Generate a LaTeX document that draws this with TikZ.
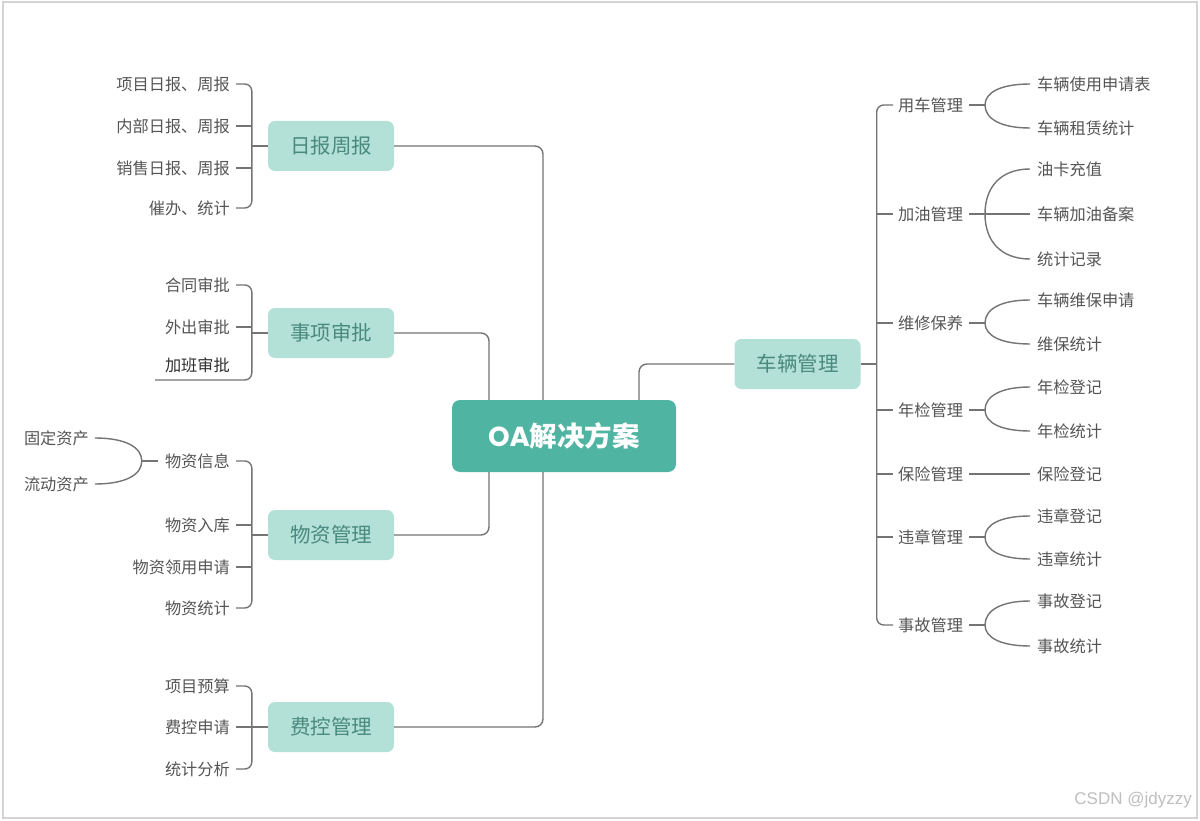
\documentclass[tikz,border=0pt]{standalone}
\usepackage{fontspec}
\usetikzlibrary{calc}
\setmainfont{Noto Sans CJK SC}
\newfontfamily\wmfont{Liberation Sans}
\newfontfamily\popfont{Poppins}
\definecolor{lnc}{HTML}{747474}
\definecolor{txc}{HTML}{555555}
\definecolor{darktx}{HTML}{303030}
\definecolor{subfill}{HTML}{B3E0D7}
\definecolor{subtext}{HTML}{4A8A7E}
\definecolor{rootfill}{HTML}{4FB4A2}
\definecolor{framec}{HTML}{D3D3D3}
% smooth brace-like curve from fork #1 to end point #2
\newcommand\mycurve[2]{\draw[conn] (#1) .. controls ($(#1)!0.6!(#1 |- #2)$) and ($(#1 |- #2)!0.35!(#2)$) .. (#2);}
\begin{document}
\begin{tikzpicture}[x=1pt,y=-1pt,
 conn/.style={draw=lnc,line width=1.4pt},
 leaf/.style={inner sep=0pt,text=txc,font=\fontsize{16.2}{17}\selectfont},
 sub/.style={fill=subfill,rounded corners=7pt,minimum width=126pt,minimum height=50pt,inner sep=0pt,text=subtext,font=\fontsize{20.5}{22}\selectfont},
 root/.style={fill=rootfill,rounded corners=8pt,minimum width=224pt,minimum height=72pt,inner sep=0pt,text=white,font=\fontsize{27.5}{30}\selectfont\bfseries},
 wm/.style={inner sep=0pt,text=black!25,font=\wmfont\fontsize{17}{18}\selectfont}]
\useasboundingbox (0,0) rectangle (1200,821);
\fill[white] (0,0) rectangle (1200,821);
\draw[framec,line width=2pt] (2.5,2) rectangle (1196.5,818);

% root and main branches
\node[root] (root) at (564,436) {{\popfont OA}解决方案};
\node[sub] (rb) at (331,146) {日报周报};
\node[sub] (sx) at (331,333) {事项审批};
\node[sub] (wz) at (331,535) {物资管理};
\node[sub] (fk) at (331,727) {费控管理};
\node[sub] (cl) at (797.5,364) {车辆管理};

\coordinate (a1) at ([xshift=-21pt]root.north);
\coordinate (a2) at ([xshift=-75pt]root.north);
\coordinate (a3) at ([xshift=-75pt]root.south);
\coordinate (a4) at ([xshift=-21pt]root.south);
\coordinate (a5) at ([xshift=75pt]root.north);
\begin{scope}[rounded corners=8pt]
\draw[conn] (rb.east) -| (a1);
\draw[conn] (sx.east) -| (a2);
\draw[conn] (wz.east) -| (a3);
\draw[conn] (fk.east) -| (a4);
\draw[conn] (cl.west) -| (a5);
\end{scope}

% 日报周报 leaves
\node[leaf,anchor=east] (r1) at (230,84) {项目日报、周报};
\node[leaf,anchor=east] (r2) at (230,126) {内部日报、周报};
\node[leaf,anchor=east] (r3) at (230,168) {销售日报、周报};
\node[leaf,anchor=east] (r4) at (230,208) {催办、统计};
\coordinate (b1) at ([xshift=-16pt]rb.west);
\draw[conn,rounded corners=7pt] ([xshift=6pt]r1.east) -| (b1) |- ([xshift=6pt]r4.east);
\draw[conn] ([xshift=6pt]r2.east) -- (b1 |- r2.east);
\draw[conn] ([xshift=6pt]r3.east) -- (b1 |- r3.east);
\draw[conn] (b1) -- (rb.west);

% 事项审批 leaves
\node[leaf,anchor=east] (s1) at (230,285) {合同审批};
\node[leaf,anchor=east] (s2) at (230,327) {外出审批};
\node[leaf,anchor=east,text=darktx] (s3) at (230,365) {加班审批};
\coordinate (b2) at ([xshift=-16pt]sx.west);
\coordinate (u3) at (155,380);
\draw[conn,rounded corners=7pt] ([xshift=6pt]s1.east) -| (b2) |- (u3);
\draw[conn] ([xshift=6pt]s2.east) -- (b2 |- s2.east);
\draw[conn] (b2) -- (sx.west);

% 物资管理 leaves
\node[leaf,anchor=east] (w1) at (230,461) {物资信息};
\node[leaf,anchor=east] (w2) at (230,525) {物资入库};
\node[leaf,anchor=east] (w3) at (230,567) {物资领用申请};
\node[leaf,anchor=east] (w4) at (230,608) {物资统计};
\coordinate (b3) at ([xshift=-16pt]wz.west);
\draw[conn,rounded corners=7pt] ([xshift=6pt]w1.east) -| (b3) |- ([xshift=6pt]w4.east);
\draw[conn] ([xshift=6pt]w2.east) -- (b3 |- w2.east);
\draw[conn] ([xshift=6pt]w3.east) -- (b3 |- w3.east);
\draw[conn] (b3) -- (wz.west);

\node[leaf,anchor=east] (g1) at (89,438) {固定资产};
\node[leaf,anchor=east] (g2) at (89,484) {流动资产};
\coordinate (gf) at ([xshift=-23pt]w1.west);
\coordinate (ge1) at ([xshift=6pt]g1.east);
\coordinate (ge2) at ([xshift=6pt]g2.east);
\draw[conn] ([xshift=-7pt]w1.west) -- (gf);
\mycurve{gf}{ge1}
\mycurve{gf}{ge2}

% 费控管理 leaves
\node[leaf,anchor=east] (k1) at (230,686) {项目预算};
\node[leaf,anchor=east] (k2) at (230,727) {费控申请};
\node[leaf,anchor=east] (k3) at (230,769) {统计分析};
\coordinate (b4) at ([xshift=-16pt]fk.west);
\draw[conn,rounded corners=7pt] ([xshift=6pt]k1.east) -| (b4) |- ([xshift=6pt]k3.east);
\draw[conn] ([xshift=6pt]k2.east) -- (fk.west);

% 车辆管理 mid level
\node[leaf,anchor=west] (m1) at (898,105) {用车管理};
\node[leaf,anchor=west] (m2) at (898,214) {加油管理};
\node[leaf,anchor=west] (m3) at (898,323) {维修保养};
\node[leaf,anchor=west] (m4) at (898,410) {年检管理};
\node[leaf,anchor=west] (m5) at (898,474) {保险管理};
\node[leaf,anchor=west] (m6) at (898,537) {违章管理};
\node[leaf,anchor=west] (m7) at (898,625) {事故管理};
\coordinate (b5) at ([xshift=16pt]cl.east);
\draw[conn] (cl.east) -- (b5);
\draw[conn,rounded corners=7pt] ([xshift=-5pt]m1.west) -| (b5) |- ([xshift=-5pt]m7.west);
\foreach \m in {m2,m3,m4,m5,m6}{\draw[conn] (b5 |- \m.west) -- ([xshift=-5pt]\m.west);}

% right leaves
\node[leaf,anchor=west] (c1) at (1037,84) {车辆使用申请表};
\node[leaf,anchor=west] (c2) at (1037,128) {车辆租赁统计};
\node[leaf,anchor=west] (c3) at (1037,169) {油卡充值};
\node[leaf,anchor=west] (c4) at (1037,214) {车辆加油备案};
\node[leaf,anchor=west] (c5) at (1037,259) {统计记录};
\node[leaf,anchor=west] (c6) at (1037,300) {车辆维保申请};
\node[leaf,anchor=west] (c7) at (1037,344) {维保统计};
\node[leaf,anchor=west] (c8) at (1037,387) {年检登记};
\node[leaf,anchor=west] (c9) at (1037,431) {年检统计};
\node[leaf,anchor=west] (c10) at (1037,474) {保险登记};
\node[leaf,anchor=west] (c11) at (1037,516) {违章登记};
\node[leaf,anchor=west] (c12) at (1037,559) {违章统计};
\node[leaf,anchor=west] (c13) at (1037,601) {事故登记};
\node[leaf,anchor=west] (c14) at (1037,646) {事故统计};

\foreach \m in {m1,m2,m3,m4,m6,m7}{
  \coordinate (f\m) at (985,0 |- \m.east);
  \draw[conn] ([xshift=6pt]\m.east) -- (f\m);
}
\foreach \c in {c1,c2,c3,c4,c5,c6,c7,c8,c9,c10,c11,c12,c13,c14}{
  \coordinate (e\c) at ([xshift=-7pt]\c.west);
}
\mycurve{fm1}{ec1}
\mycurve{fm1}{ec2}
\mycurve{fm2}{ec3}
\draw[conn] (fm2) -- (ec4);
\mycurve{fm2}{ec5}
\mycurve{fm3}{ec6}
\mycurve{fm3}{ec7}
\mycurve{fm4}{ec8}
\mycurve{fm4}{ec9}
\draw[conn] ([xshift=6pt]m5.east) -- (ec10);
\mycurve{fm6}{ec11}
\mycurve{fm6}{ec12}
\mycurve{fm7}{ec13}
\mycurve{fm7}{ec14}

% watermark
\node[wm,anchor=east] (wmk) at (1192,800) {CSDN @jdyzzy};
\end{tikzpicture}
\end{document}
